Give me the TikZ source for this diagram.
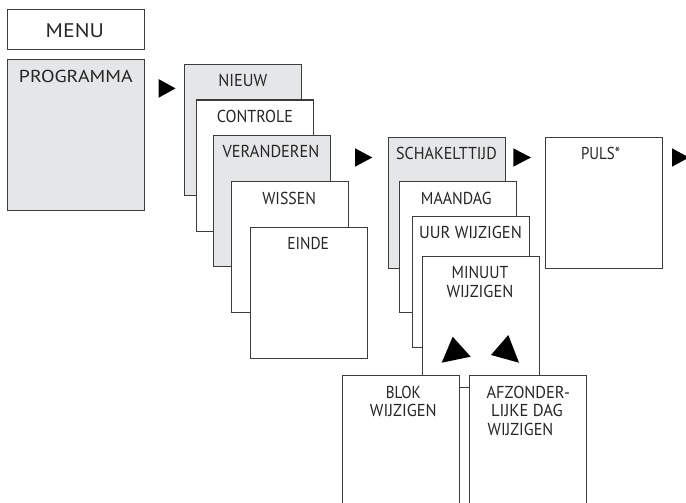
\documentclass[tikz,border=0pt]{standalone}
\usepackage{graphicx}
\usepackage{fontspec}
\setmainfont{PT Sans}
\definecolor{boxgray}{RGB}{229,230,232}
\definecolor{edge}{RGB}{60,60,60}
% fit a word to the measured width and cap height
\newcommand\fitw[2]{\resizebox{#1pt}{12.3pt}{#2}}
\begin{document}
\begin{tikzpicture}[x=1pt,y=-1pt,
  box/.style={draw=edge, line width=1.1pt, fill=white, rectangle, inner sep=0pt,
    anchor=north west, minimum width=117pt, minimum height=131pt},
  graybox/.style={box, fill=boxgray},
  lbl/.style={anchor=base, font=\fontsize{17.5}{18.4}\selectfont, align=center, inner sep=0pt, text=black!85},
  tri/.style={fill=black}]
\useasboundingbox (0,0) rectangle (686,503);
\clip (0,0) rectangle (686,503);
% first column
\node[box, minimum width=137pt, minimum height=40pt] (menu) at (7,9) {};
\node[lbl] (menut) at (74.8,37.3) {\resizebox{58.3pt}{14pt}{MENU}};
\node[graybox, minimum width=137pt, minimum height=151pt] (prog) at (7,59) {};
\node[lbl] (progt) at (75.8,82.3) {\fitw{113.7}{PROGRAMMA}};
\fill[tri] (158.5,79) -- (175.5,88.4) -- (158.5,97.8) -- cycle;
% second column
\node[graybox] (nieuw) at (184,64) {};
\node[lbl] (nieuwt) at (242.8,86.5) {\fitw{49}{NIEUW}};
\node[box] (contr) at (196,99.5) {};
\node[lbl] (contrt) at (255,122.7) {\fitw{76}{CONTROLE}};
\node[graybox] (veran) at (213,135) {};
\node[lbl] (verant) at (271,157.7) {\fitw{96.7}{VERANDEREN}};
\node[box] (wissen) at (231,181) {};
\node[lbl] (wissent) at (289.2,204) {\fitw{53.7}{WISSEN}};
\node[box] (einde) at (249.5,227) {};
\node[lbl] (eindet) at (308.2,249.3) {\fitw{41.7}{EINDE}};
\fill[tri] (355,148.3) -- (372.3,157.5) -- (355,166.7) -- cycle;
% third column
\node[graybox] (schak) at (388,137) {};
\node[lbl] (schakt) at (446.5,159.3) {\fitw{100.7}{SCHAKELTTIJD}};
\node[box] (maan) at (398.5,181) {};
\node[lbl] (maant) at (456.3,204) {\fitw{70.7}{MAANDAG}};
\node[box] (uur) at (412,216) {};
\node[lbl] (uurt) at (470.5,238.3) {\fitw{102.7}{UUR WIJZIGEN}};
\node[box] (minuut) at (422,255.5) {};
\node[lbl, font=\fontsize{17.5}{19}\selectfont] (minuutt) at (480,297.3) {\fitw{56.7}{MINUUT}\\\fitw{66.7}{WIJZIGEN}};
\fill[tri] (452.7,336.7) -- (441.7,362.7) -- (470.7,356.7) -- cycle;
\fill[tri] (508.3,335) -- (491,355) -- (519,362.7) -- cycle;
\node[box, minimum height=140pt] (blok) at (342,374.5) {};
\node[lbl] (blokt) at (403.3,416.7) {\fitw{35}{BLOK}\\\fitw{66.7}{WIJZIGEN}};
\node[box, minimum height=140pt] (afz) at (468.5,374.5) {};
\node[lbl] (afzt) at (527,435) {\hspace*{2.6pt}\fitw{83.3}{AFZONDER-}\\\fitw{71.7}{LIJKE DAG}\\\fitw{65.7}{WIJZIGEN}\hspace*{13pt}};
\fill[tri] (513.3,148.3) -- (531,157.5) -- (513.3,166.7) -- cycle;
% fourth column
\node[box] (puls) at (544.5,137) {};
\node[lbl] (pulst) at (600.5,159.3) {\fitw{39}{PULS*}};
\fill[tri] (672,148.3) -- (689,157.5) -- (672,166.7) -- cycle;
\end{tikzpicture}
\end{document}
